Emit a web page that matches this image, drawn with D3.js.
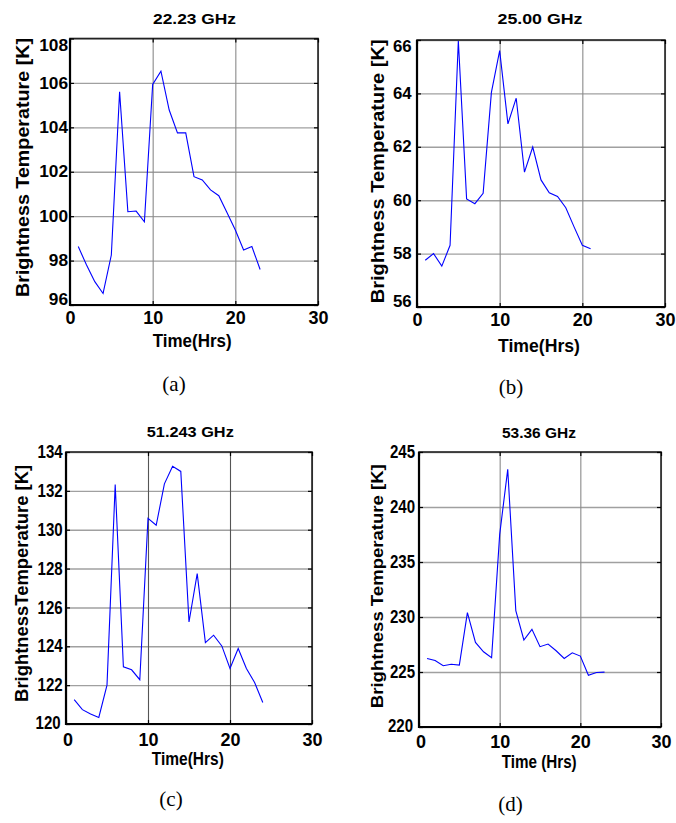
<!DOCTYPE html>
<html><head><meta charset="utf-8">
<script src="https://cdn.jsdelivr.net/npm/d3@7/dist/d3.min.js"></script>
<style>body{margin:0;background:#fff} svg{display:block}</style>
</head><body>
<svg id="chart" width="676" height="823"></svg>
<script>
// ---------------- data ----------------
const xTicks = [0, 10, 20, 30];

const hoursA = [1,2,3,4,5,6,7,8,9,10,11,12,13,14,15,16,17,18,19,20,21,22,23];
const tbA = [98.63,97.8,97.05,96.52,98.25,105.6,100.2,100.23,99.75,105.93,106.53,104.78,103.75,103.75,101.78,101.63,101.18,100.92,100.15,99.38,98.48,98.63,97.6];
const yTicksA = [96,98,100,102,104,106,108];

const hoursB = [1,2,3,4,5,6,7,8,9,10,11,12,13,14,15,16,17,18,19,20,21];
const tbB = [57.75,58.0,57.53,58.31,65.97,60.05,59.87,60.26,64.04,65.6,62.86,63.82,61.05,61.99,60.76,60.28,60.14,59.72,59.0,58.31,58.18];
const yTicksB = [56,58,60,62,64,66];

const hoursC = [1,2,3,4,5,6,7,8,9,10,11,12,13,14,15,16,17,18,19,20,21,22,23,24];
const tbC = [121.25,120.74,120.51,120.34,122.0,132.32,122.94,122.79,122.28,130.58,130.23,132.36,133.26,133.0,125.25,127.74,124.19,124.57,124.02,122.86,123.89,122.86,122.14,121.11];
const yTicksC = [120,122,124,126,128,130,132,134];

const hoursD = [1,2,3,4,5,6,7,8,9,10,11,12,13,14,15,16,17,18,19,20,21,22,23];
const tbD = [226.23,226.05,225.57,225.7,225.63,230.4,227.69,226.84,226.3,237.49,243.42,230.58,227.91,228.88,227.3,227.54,226.93,226.23,226.75,226.45,224.71,224.96,224.99];
const yTicksD = [220,225,230,235,240,245];

const titles = ["22.23 GHz", "25.00 GHz", "51.243 GHz", "53.36 GHz"];
const xLabels = ["Time(Hrs)", "Time(Hrs)", "Time(Hrs)", "Time (Hrs)"];
const yLabels = ["Brightness Temperature [K]", "Brightness Temperature [K]", "BrightnessTemperature [K]", "Brightness Temperature [K]"];
const captions = ["(a)", "(b)", "(c)", "(d)"];

// ---------------- layout ----------------
const panels = [
  {hours: hoursA, tb: tbA, yTicks: yTicksA, box: [70, 38.5, 318, 305], clamp: true,
   title: {cx: 194.5, y: 24, len: 83}, xlab: {cx: 192.2, y: 347, len: 79},
   ylab: {x: 29.3, cy: 167.5, len: 259, fs: 17.5}, cap: {cx: 174, y: 391},
   ytick: {pad: 2, fs: 16, sx: 1.08}, xtick: {pad: 6.7}, vgrid: "#8a8a8a"},
  {hours: hoursB, tb: tbB, yTicks: yTicksB, box: [417, 40, 665, 307], clamp: true,
   title: {cx: 540, y: 24, len: 85}, xlab: {cx: 539, y: 352, len: 82},
   ylab: {x: 384, cy: 171.3, len: 264, fs: 17.5}, cap: {cx: 511, y: 394},
   ytick: {pad: 5.3, fs: 16, sx: 1.05}, xtick: {pad: 6.3}, vgrid: "#8a8a8a"},
  {hours: hoursC, tb: tbC, yTicks: yTicksC, box: [66, 452, 312, 724], clamp: false,
   title: {cx: 190.3, y: 437.3, len: 87}, xlab: {cx: 187.8, y: 765, len: 72},
   ylab: {x: 28.3, cy: 583.4, len: 237, fs: 17.5}, cap: {cx: 171, y: 806},
   ytick: {pad: 3.3, fs: 17.5, sx: 0.86}, xtick: {pad: 9}, vgrid: "#555"},
  {hours: hoursD, tb: tbD, yTicks: yTicksD, box: [419, 452, 661, 727], clamp: false,
   title: {cx: 539, y: 437.7, len: 74}, xlab: {cx: 539.2, y: 768, len: 75},
   ylab: {x: 382.7, cy: 586.2, len: 244, fs: 17}, cap: {cx: 510.5, y: 811},
   ytick: {pad: 4, fs: 17.5, sx: 0.86}, xtick: {pad: 8}, vgrid: "#8a8a8a"}
];

const SANS = "'Liberation Sans', Arial, Helvetica, sans-serif";
const SERIF = "'Liberation Serif', 'Times New Roman', Times, serif";
const svg = d3.select("#chart");

function fitLen(sel, len) {
  sel.attr("textLength", len).attr("lengthAdjust", "spacingAndGlyphs");
}
function scaleW(sel, sx) {
  sel.each(function () {
    const w = this.getComputedTextLength();
    d3.select(this).attr("textLength", w * sx).attr("lengthAdjust", "spacingAndGlyphs");
  });
}

panels.forEach((p, i) => {
  const [l, t, r, b] = p.box;
  const x = d3.scaleLinear().domain([xTicks[0], xTicks[xTicks.length - 1]]).range([l, r]);
  const yDom = d3.extent(p.yTicks);
  const y = d3.scaleLinear().domain(yDom).range([b, t]);
  const g = svg.append("g");

  // horizontal grid
  g.append("g").attr("transform", `translate(${l},0)`)
    .call(d3.axisLeft(y).tickValues(p.yTicks).tickSize(-(r - l)).tickFormat(""))
    .call(s => s.select(".domain").remove())
    .selectAll("line").attr("stroke", "#a0a0a0").attr("stroke-width", 1.4);
  // vertical grid
  g.append("g").attr("transform", `translate(0,${b})`)
    .call(d3.axisBottom(x).tickValues(xTicks).tickSize(-(b - t)).tickFormat(""))
    .call(s => s.select(".domain").remove())
    .selectAll("line").attr("stroke", p.vgrid).attr("stroke-width", 1.1);

  // data line
  const line = d3.line().x((d, k) => x(p.hours[k])).y(d => y(d));
  g.append("path").datum(p.tb).attr("d", line)
    .attr("fill", "none").attr("stroke", "#0000ff").attr("stroke-width", 1.1)
    .attr("stroke-linejoin", "miter");

  // frame
  g.append("rect").attr("x", l).attr("y", t).attr("width", r - l).attr("height", b - t)
    .attr("fill", "none").attr("stroke", "#222").attr("stroke-width", 1.6);
  g.append("path").attr("d", `M${l},${t}V${b}H${r}`)
    .attr("fill", "none").attr("stroke", "#000").attr("stroke-width", 2.2);

  // y axis ticks + labels
  const ya = g.append("g").attr("transform", `translate(${l},0)`)
    .call(d3.axisLeft(y).tickValues(p.yTicks).tickSize(-4).tickPadding(p.ytick.pad));
  ya.select(".domain").remove();
  ya.selectAll("line").attr("stroke", "#000").attr("stroke-width", 1.2);
  ya.attr("font-family", SANS).attr("font-size", p.ytick.fs).attr("font-weight", "bold");
  const yt = ya.selectAll("text").attr("fill", "#000");
  scaleW(yt, p.ytick.sx);
  if (p.clamp) {
    ya.selectAll(".tick").filter(d => d === yDom[1]).select("text").attr("y", 6.5);
    ya.selectAll(".tick").filter(d => d === yDom[0]).select("text").attr("y", -6);
  } else {
    // keep the lowest label clear of the x-axis "0"
    const bt = ya.selectAll(".tick").filter(d => d === yDom[0]).select("text");
    bt.attr("x", +bt.attr("x") - 2).attr("y", -1);
  }
  // right-side ticks
  g.append("g").attr("transform", `translate(${r},0)`)
    .call(d3.axisRight(y).tickValues(p.yTicks).tickSize(-4).tickFormat(""))
    .call(s => s.select(".domain").remove())
    .selectAll("line").attr("stroke", "#000").attr("stroke-width", 1.2);

  // x axis ticks + labels
  const xa = g.append("g").attr("transform", `translate(0,${b})`)
    .call(d3.axisBottom(x).tickValues(xTicks).tickSize(-4).tickPadding(p.xtick.pad));
  xa.select(".domain").remove();
  xa.selectAll("line").attr("stroke", "#000").attr("stroke-width", 1.2);
  xa.attr("font-family", SANS).attr("font-size", 18).attr("font-weight", "bold");
  xa.selectAll("text").attr("fill", "#000");
  if (!p.clamp) {
    xa.selectAll(".tick").filter(d => d === xTicks[0]).select("text").attr("x", 1.5);
  }
  g.append("g").attr("transform", `translate(0,${t})`)
    .call(d3.axisTop(x).tickValues(xTicks).tickSize(-4).tickFormat(""))
    .call(s => s.select(".domain").remove())
    .selectAll("line").attr("stroke", "#000").attr("stroke-width", 1.2);

  // title
  g.append("text").attr("x", p.title.cx).attr("y", p.title.y)
    .attr("text-anchor", "middle").attr("font-family", SANS).attr("font-weight", "bold")
    .attr("font-size", 15).text(titles[i]).call(fitLen, p.title.len);
  // x label
  g.append("text").attr("x", p.xlab.cx).attr("y", p.xlab.y)
    .attr("text-anchor", "middle").attr("font-family", SANS).attr("font-weight", "bold")
    .attr("font-size", 18).text(xLabels[i]).call(fitLen, p.xlab.len);
  // y label
  g.append("text").attr("transform", `translate(${p.ylab.x},${p.ylab.cy}) rotate(-90)`)
    .attr("text-anchor", "middle").attr("font-family", SANS).attr("font-weight", "bold")
    .attr("font-size", p.ylab.fs).text(yLabels[i]).call(fitLen, p.ylab.len);
  // caption
  g.append("text").attr("x", p.cap.cx).attr("y", p.cap.y)
    .attr("text-anchor", "middle").attr("font-family", SERIF)
    .attr("font-size", 21).text(captions[i]);
});
</script>
</body></html>
